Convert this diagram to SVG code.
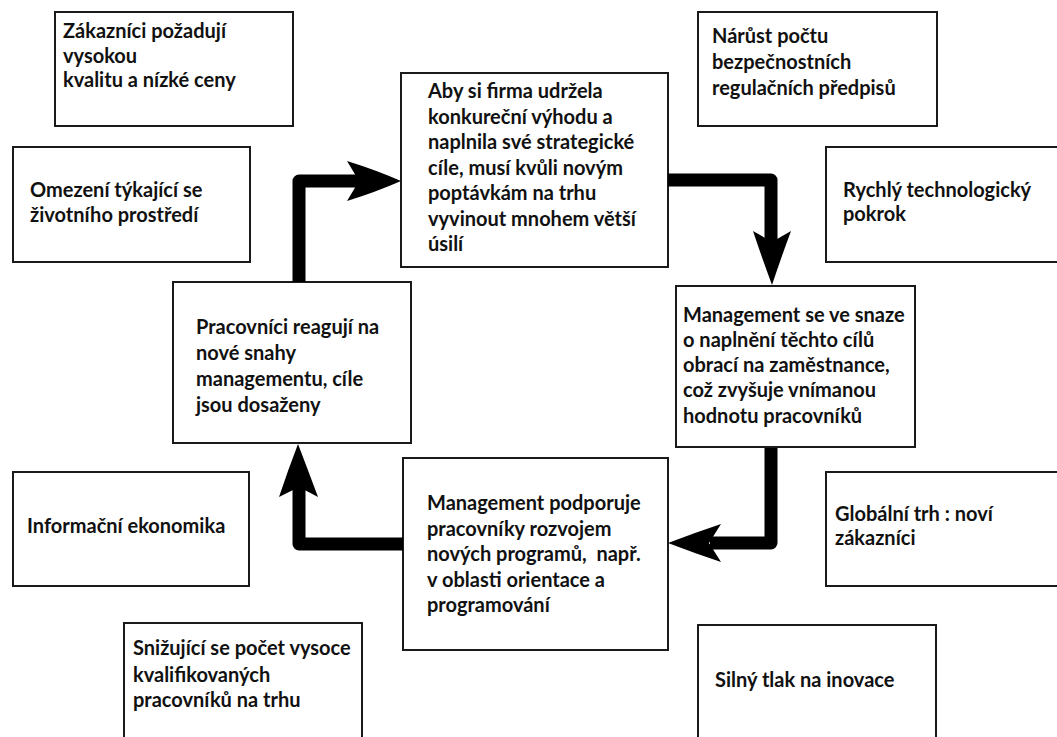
<svg xmlns="http://www.w3.org/2000/svg" width="1057" height="737" viewBox="0 0 1057 737">
<style>
.box{fill:#fff;stroke:#1a1a1a;stroke-width:2}
.t{font-family:Lato,"Open Sans",sans-serif;font-weight:700;font-size:20px;fill:#111}
.pre{white-space:pre}
.shaft{fill:none;stroke:#000;stroke-width:13;stroke-linejoin:round}
.head{fill:#000}
</style>
<rect width="1057" height="737" fill="#fff"/>
<g id="n-zakaznici">
<rect class="box" x="55" y="12" width="238" height="114"/>
<text class="t"><tspan x="63" y="38">Zákazníci požadují</tspan><tspan x="63" y="63">vysokou</tspan><tspan x="63" y="87">kvalitu a nízké ceny</tspan></text>
</g>
<g id="n-omezeni">
<rect class="box" x="13" y="147" width="237" height="115"/>
<text class="t"><tspan x="30" y="197">Omezení týkající se</tspan><tspan x="30" y="222">životního prostředí</tspan></text>
</g>
<g id="n-firma">
<rect class="box" x="401" y="73" width="267" height="194"/>
<text class="t"><tspan x="428" y="98">Aby si firma udržela</tspan><tspan x="428" y="123.5">konkureční výhodu a</tspan><tspan x="428" y="149">naplnila své strategické</tspan><tspan x="428" y="174.5">cíle, musí kvůli novým</tspan><tspan x="428" y="200">poptávkám na trhu</tspan><tspan x="428" y="225.5">vyvinout mnohem větší</tspan><tspan x="428" y="251">úsilí</tspan></text>
</g>
<g id="n-narust">
<rect class="box" x="698" y="12" width="239" height="114"/>
<text class="t"><tspan x="712" y="43">Nárůst počtu</tspan><tspan x="712" y="69">bezpečnostních</tspan><tspan x="712" y="95">regulačních předpisů</tspan></text>
</g>
<g id="n-rychly">
<rect class="box" x="826" y="147" width="240" height="115"/>
<text class="t"><tspan x="843" y="197">Rychlý technologický</tspan><tspan x="843" y="221">pokrok</tspan></text>
</g>
<g id="n-pracovnici">
<rect class="box" x="173" y="282" width="238" height="161"/>
<text class="t"><tspan x="196" y="334">Pracovníci reagují na</tspan><tspan x="196" y="360">nové snahy</tspan><tspan x="196" y="386">managementu, cíle</tspan><tspan x="196" y="412">jsou dosaženy</tspan></text>
</g>
<g id="n-management1">
<rect class="box" x="676" y="286" width="239" height="161"/>
<text class="t"><tspan x="683" y="322">Management se ve snaze</tspan><tspan x="683" y="347">o naplnění těchto cílů</tspan><tspan x="683" y="372">obrací na zaměstnance,</tspan><tspan x="683" y="397">což zvyšuje vnímanou</tspan><tspan x="683" y="423">hodnotu pracovníků</tspan></text>
</g>
<g id="n-informacni">
<rect class="box" x="13" y="472" width="236" height="114"/>
<text class="t" x="27" y="533">Informační ekonomika</text>
</g>
<g id="n-management2">
<rect class="box" x="403" y="458" width="265" height="192"/>
<text class="t"><tspan x="427" y="510">Management podporuje</tspan><tspan x="427" y="536">pracovníky rozvojem</tspan><tspan class="pre" x="427" y="561">nových programů,  např.</tspan><tspan x="427" y="587">v oblasti orientace a</tspan><tspan x="427" y="612">programování</tspan></text>
</g>
<g id="n-globalni">
<rect class="box" x="826" y="472" width="240" height="114"/>
<text class="t"><tspan x="835" y="521">Globální trh : noví</tspan><tspan x="835" y="545">zákazníci</tspan></text>
</g>
<g id="n-snizujici">
<rect class="box" x="124" y="623" width="238" height="124"/>
<text class="t"><tspan x="133" y="655">Snižující se počet vysoce</tspan><tspan x="133" y="682">kvalifikovaných</tspan><tspan x="133" y="707">pracovníků na trhu</tspan></text>
</g>
<g id="n-silny">
<rect class="box" x="698" y="625" width="238" height="122"/>
<text class="t" x="715" y="687">Silný tlak na inovace</text>
</g>
<g id="connectors">
<path class="shaft" d="M299,282 V181 H362"/>
<path class="head" d="M401,181 Q376,170 347,161 L359,181 L347,201 Q376,192 401,181 Z"/>
<path class="shaft" d="M668,180 H771 V242"/>
<path class="head" d="M772,285 Q762,258 753,231 L772,242 L791,231 Q781,258 772,285 Z"/>
<path class="shaft" d="M771,448 V543 H710"/>
<path class="head" d="M668,543 Q694,533 721,524 L709,543 L721,562 Q694,553 668,543 Z"/>
<path class="shaft" d="M403,544 H299 V487"/>
<path class="head" d="M298,444 Q288,470 279,497 L299,487 L318,497 Q308,470 298,444 Z"/>
</g>
</svg>
